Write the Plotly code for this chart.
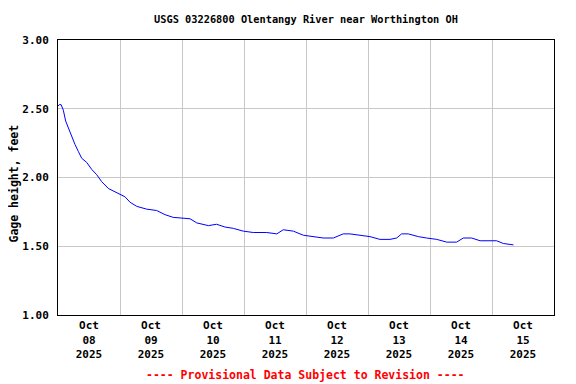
import plotly.graph_objects as go
from datetime import datetime, timedelta

# Hours since 2025-10-08 00:00 and gage height (ft)
hours = [0.0, 0.5, 1.2, 2.05, 2.98, 3.99, 5.3, 6.58, 7.86, 9.17, 11.1, 13.0, 15.0, 16.9,
         19.5, 22.7, 25.9, 27.9, 30.5, 34.3, 38.2, 41.4, 44.6, 51.1, 53.7, 58.2, 61.4,
         64.6, 67.9, 71.7, 75.6, 80.8, 84.7, 87.2, 91.1, 95.0, 98.8, 102.7, 106.6, 110.4,
         113.0, 116.9, 120.8, 124.6, 128.5, 131.1, 133.0, 135.6, 139.5, 142.7, 146.6,
         150.5, 154.3, 156.9, 160.1, 163.4, 167.2, 169.8, 172.4, 176.3]
gage = [2.52, 2.53, 2.53, 2.49, 2.41, 2.36, 2.29, 2.24, 2.19, 2.14, 2.11, 2.06, 2.02, 1.97,
        1.92, 1.89, 1.86, 1.82, 1.79, 1.77, 1.76, 1.73, 1.71, 1.70, 1.67, 1.65, 1.66,
        1.64, 1.63, 1.61, 1.60, 1.60, 1.59, 1.62, 1.61, 1.58, 1.57, 1.56, 1.56, 1.59,
        1.59, 1.58, 1.57, 1.55, 1.55, 1.56, 1.59, 1.59, 1.57, 1.56, 1.55,
        1.53, 1.53, 1.56, 1.56, 1.54, 1.54, 1.54, 1.52, 1.51]
y_ticks = [1.0, 1.5, 2.0, 2.5, 3.0]

start = datetime(2025, 10, 8)
times = [start + timedelta(hours=h) for h in hours]

FONT = "DejaVu Sans Mono"

fig = go.Figure()
fig.add_trace(go.Scatter(x=times, y=gage, mode="lines", line=dict(color="#0000FF", width=1),
                         showlegend=False, hoverinfo="skip"))

# page body has an 8px margin, so the figure is 8px smaller and margins shifted
fig.update_layout(
    width=568, height=376,
    margin=dict(l=50, r=22, t=32, b=69),
    paper_bgcolor="white", plot_bgcolor="white",
    font=dict(family=FONT, size=11, color="black"),
    title=dict(text="<b>USGS 03226800 Olentangy River near Worthington OH</b>",
               x=298/568, xanchor="center", y=1-11/376, yanchor="middle",
               font=dict(family=FONT, size=10.3, color="black")),
)
fig.update_xaxes(
    range=[start, start + timedelta(days=8)],
    dtick=86400000, tick0="2025-10-08", ticklabelmode="period",
    tickformat="<b>%b</b><br><b>%d</b><br><b>%Y</b>",
    showgrid=True, gridcolor="#c8c8c8", gridwidth=1,
    showline=True, linecolor="black", linewidth=1, mirror=True,
    ticks="", zeroline=False,
    tickfont=dict(family=FONT, size=11, color="black"),
)
fig.update_yaxes(
    range=[1.0, 3.0], tickvals=y_ticks, ticktext=[f"<b>{v:.2f}</b>" for v in y_ticks],
    showgrid=True, gridcolor="#c8c8c8", gridwidth=1,
    showline=True, linecolor="black", linewidth=1, mirror=True,
    ticks="", zeroline=False, ticklabelstandoff=6,
    tickfont=dict(family=FONT, size=11, color="black"),
)
fig.add_annotation(text="<b>Gage height, feet</b>", xref="paper", yref="paper",
                   x=(14-58)/496, y=(315-183.5)/275, xanchor="center", yanchor="middle",
                   textangle=-90, showarrow=False, font=dict(family=FONT, size=11.5, color="black"))
fig.add_annotation(text="<b>---- Provisional Data Subject to Revision ----</b>", xref="paper", yref="paper",
                   x=(305-58)/496, y=(315-375)/275, xanchor="center", yanchor="middle",
                   showarrow=False, font=dict(family=FONT, size=11.5, color="red"))

fig.write_html("out.html")
